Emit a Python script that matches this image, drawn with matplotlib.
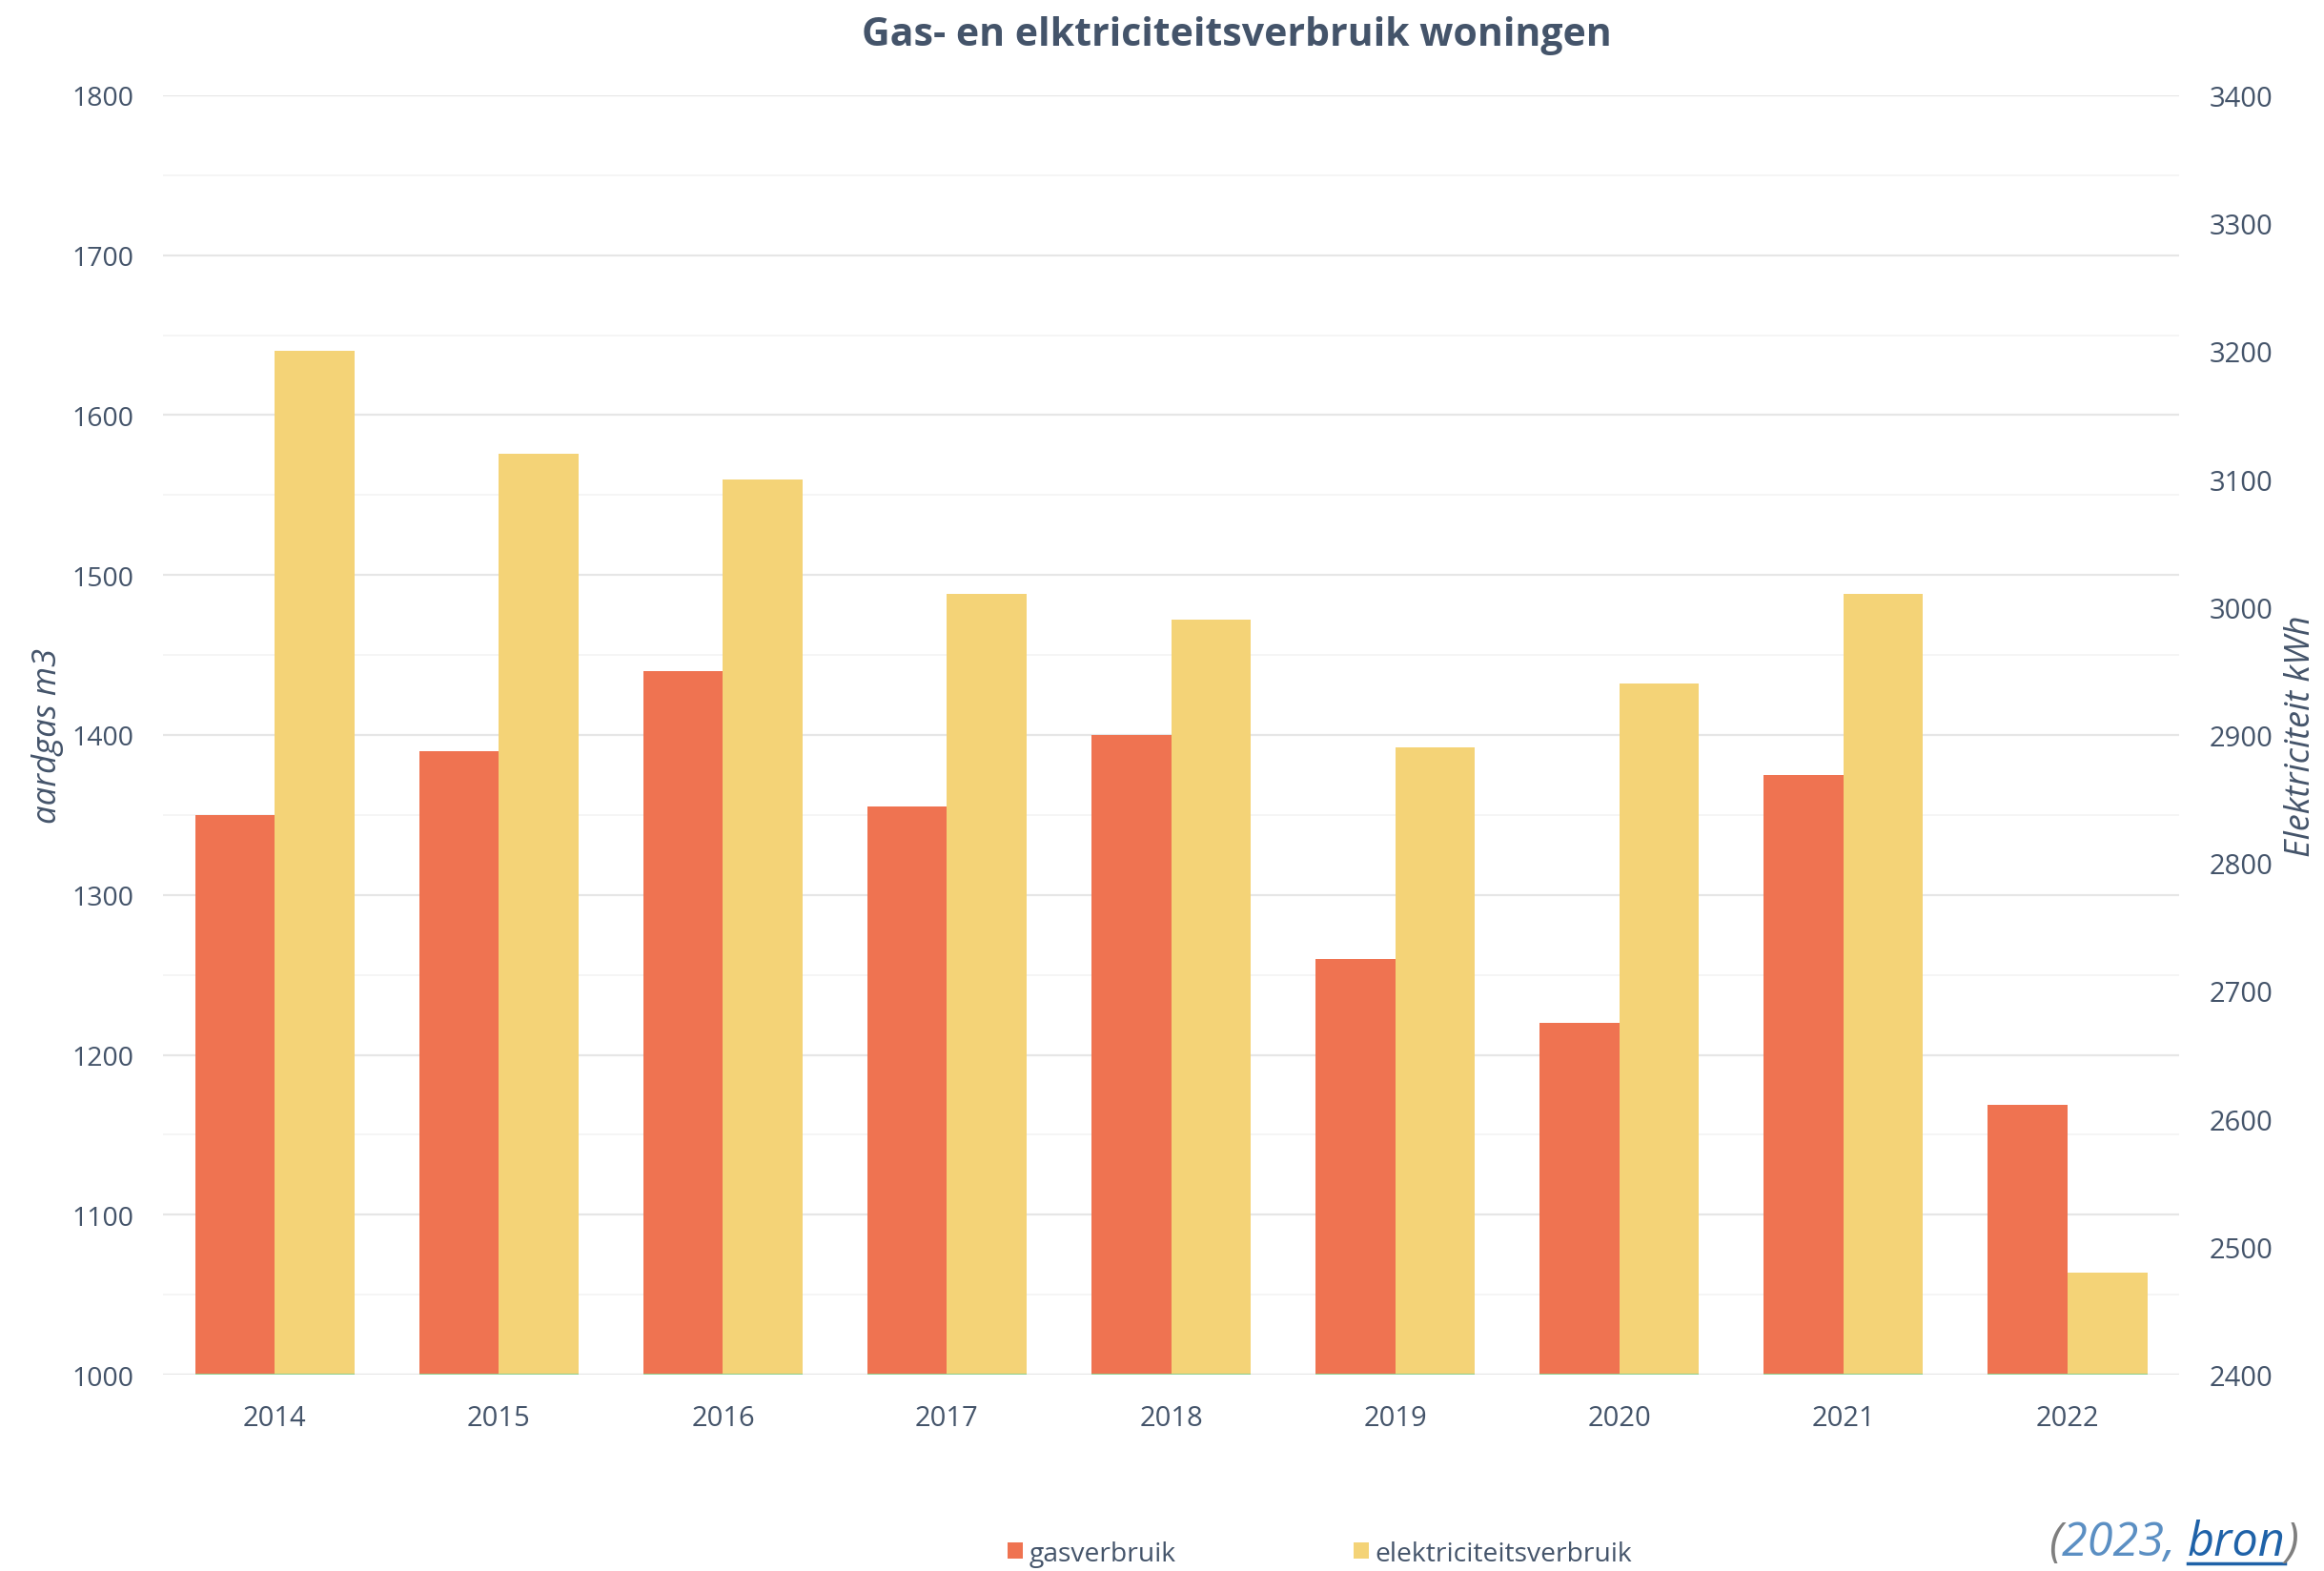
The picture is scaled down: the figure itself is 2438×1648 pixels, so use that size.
import matplotlib.pyplot as plt
import numpy as np

# Data
years = ['2014', '2015', '2016', '2017', '2018', '2019', '2020', '2021', '2022']
gas = [1350, 1390, 1440, 1355, 1400, 1260, 1220, 1375, 1169]
elek = [3200, 3120, 3100, 3010, 2990, 2890, 2940, 3010, 2480]

txt = '#44546a'
c_gas = '#ef7351'
c_elek = '#f4d377'

fig = plt.figure(figsize=(24.38, 16.49), dpi=100)
pos = [0.0701, 0.1249, 0.8676, 0.8139]

# grid sits in its own axes, under both bar layers
axg = fig.add_axes(pos)
axg.set_ylim(1000, 1800)
axg.set_xlim(0, 1)
axg.set_yticks(np.arange(1000, 1801, 100))
axg.set_yticks(np.arange(1050, 1800, 100), minor=True)
axg.grid(axis='y', which='major', color='#e6e6e6', lw=1.6)
axg.grid(axis='y', which='minor', color='#f4f4f4', lw=1.3)
axg.tick_params(left=False, labelleft=False, bottom=False, labelbottom=False, which='both')
for s in axg.spines.values():
    s.set_visible(False)

ax = fig.add_axes(pos)
ax.patch.set_visible(False)
ax2 = ax.twinx()
ax2.patch.set_visible(False)

x = np.arange(len(years))
w = 0.357

ax.bar(x - w / 2, gas, w, color=c_gas, zorder=3, label='gasverbruik')
ax2.bar(x + w / 2, elek, w, color=c_elek, zorder=3, label='elektriciteitsverbruik')
ax2.hlines([2400] * len(x), x - w, x + w, color='#8fcf8f', lw=1.5, zorder=4)

ax.set_ylim(1000, 1800)
ax2.set_ylim(2400, 3400)
ax.set_xlim(-0.5, 8.5)

ax.set_yticks(np.arange(1000, 1801, 100))
ax2.set_yticks(np.arange(2400, 3401, 100))

ax.set_xticks(x)
ax.set_xticklabels(years)
for a in (ax, ax2):
    for s in a.spines.values():
        s.set_visible(False)
    a.tick_params(length=0, colors=txt, which='both')

ax.tick_params(axis='x', labelsize=21, pad=22)
for lab in ax.get_xticklabels():
    lab.set_family('Open Sans')
ax.tick_params(axis='y', labelsize=20.5, pad=22)
for lab in ax.get_yticklabels():
    lab.set_family(['Liberation Sans Narrow', 'Open Sans'])
ax2.tick_params(axis='y', labelsize=21, pad=23)
for lab in ax2.get_yticklabels():
    lab.set_family('Open Sans')

fig.text(0.0205, 0.532, 'aardgas m3', rotation=90, style='italic', fontsize=25,
         color=txt, family='Open Sans', ha='center', va='center')
fig.text(0.99, 0.532, 'Elektriciteit kWh', rotation=90, style='italic', fontsize=26,
         color=txt, family='Open Sans', ha='center', va='center')

fig.text(0.532, 0.977, 'Gas- en elktriciteitsverbruik woningen', fontsize=29.5,
         fontweight='bold', color=txt, family='Open Sans', ha='center', va='center')

h1, l1 = ax.get_legend_handles_labels()
h2, l2 = ax2.get_legend_handles_labels()
leg = fig.legend(h1 + h2, l1 + l2, loc='center', bbox_to_anchor=(0.568, 0.011), ncol=2,
                 frameon=False, handlelength=0.55, handleheight=0.55,
                 handletextpad=0.25, columnspacing=6.6,
                 prop={'family': ['Liberation Sans Narrow', 'Open Sans'], 'size': 20.3})
for t in leg.get_texts():
    t.set_color(txt)

# source note, laid out right to left
y0 = 0.018
fs = 35
W, H = fig.bbox.width, fig.bbox.height
fig.canvas.draw()
r = fig.canvas.get_renderer()
right = 0.989
t4 = fig.text(right, y0, ')', fontsize=fs, style='italic', color='#7f7f7f',
              family='Open Sans', va='center', ha='right')
bb = t4.get_window_extent(r)
t3 = fig.text(bb.x0 / W, y0, 'bron', fontsize=fs, style='italic',
              color='#1f62a8', family='Open Sans', va='center', ha='right')
bb3 = t3.get_window_extent(r)
fig.add_artist(plt.Line2D([bb3.x0 / W, bb3.x1 / W], [(bb3.y0 + 3) / H] * 2,
                          color='#1f62a8', lw=2.5))
t2 = fig.text(bb3.x0 / W, y0, '2023, ', fontsize=fs, style='italic',
              color='#5b8fc3', family='Open Sans', va='center', ha='right')
bb = t2.get_window_extent(r)
fig.text(bb.x0 / W, y0, '(', fontsize=fs, style='italic', color='#7f7f7f',
         family='Open Sans', va='center', ha='right')

fig.savefig('out.png', dpi=100)
